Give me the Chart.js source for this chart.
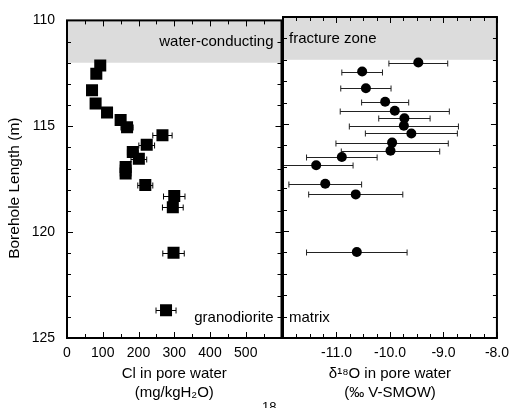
<!DOCTYPE html>
<html>
<head>
<meta charset="utf-8">
<script src="https://cdn.jsdelivr.net/npm/chart.js@4.4.1/dist/chart.umd.min.js"></script>
<style>
  body { margin: 0; background: #fff; }
  #wrap { position: relative; width: 516px; height: 408px; overflow: hidden; }
  #clChart { position: absolute; left: 0; top: 0; }
  #o18Chart { position: absolute; left: 276px; top: 0; }
  #capNum { position: absolute; left: 262px; top: 399px; font: 13px "Liberation Sans", Arial, sans-serif; color: #000; }
</style>
</head>
<body>
<div id="wrap">
  <canvas id="clChart" width="290" height="408"></canvas>
  <canvas id="o18Chart" width="240" height="408"></canvas>
  <span id="capNum">18</span>
</div>
<script>
(function() {
/* ---------- Data ---------- */
const depthCl   = [112.13, 112.52, 113.3, 113.93, 114.35, 114.7, 115.05, 115.42, 115.87, 116.21, 116.53, 116.92, 117.23, 117.77, 118.29, 118.82, 120.97, 123.69];
const clValues  = [93, 82, 70, 80, 112, 150, 168, 267, 223, 184, 201, 164, 164, 219, 300, 296, 298, 277];
const clErrors  = [5, 5, 5, 5, 8, 12, 17, 27, 22, 15, 22, 15, 15, 21, 30, 29, 30, 28];

const depthO18  = [112.13, 112.55, 113.33, 113.96, 114.38, 114.73, 115.08, 115.44, 115.87, 116.25, 116.54, 116.93, 117.79, 118.29, 120.98];
const o18Values = [-9.47, -10.52, -10.45, -10.09, -9.91, -9.73, -9.74, -9.60, -9.96, -9.99, -10.90, -11.38, -11.21, -10.64, -10.62];
const o18Errors = [0.55, 0.38, 0.47, 0.44, 1.02, 0.48, 1.02, 0.86, 1.05, 0.92, 0.66, 0.69, 0.68, 0.88, 0.94];

const depthTicks    = [110, 115, 120, 125];
const clTickLabels  = [0, 100, 200, 300, 400, 500];
const o18TickLabels = [-11, -10, -9, -8];

const zoneTop = 110, zoneBottom = 112;

/* ---------- Common ---------- */
const FONT = '"Liberation Sans", Arial, sans-serif';
Chart.defaults.font.family = FONT;
Chart.defaults.color = '#000';
const tickFont = { size: 14 };
const noGrid = { display: false, drawTicks: false };

/* ---------- Plugins ---------- */
function bandPlugin(labels) {
  return {
    id: 'band',
    beforeDatasetsDraw(chart) {
      const { ctx, chartArea: a, scales: { y } } = chart;
      const top = y.getPixelForValue(zoneTop), bot = y.getPixelForValue(zoneBottom);
      ctx.save();
      ctx.fillStyle = '#dcdcdc';
      ctx.fillRect(a.left, top, a.right - a.left, bot - top);
      ctx.font = '15px ' + FONT;
      ctx.fillStyle = '#000';
      ctx.textBaseline = 'middle';
      labels.forEach(l => {
        ctx.textAlign = l.align;
        const px = l.align === 'right' ? a.right - 8 : a.left + 6;
        ctx.fillText(l.text, px, y.getPixelForValue(l.depth));
      });
      ctx.restore();
    }
  };
}

function errorBars(values, depths, errors, color) {
  return {
    id: 'errorBars',
    beforeDatasetsDraw(chart) {
      const { ctx, chartArea: a, scales: { x, y } } = chart;
      ctx.save();
      ctx.beginPath();
      ctx.rect(a.left, a.top, a.right - a.left, a.bottom - a.top);
      ctx.clip();
      ctx.strokeStyle = color;
      ctx.lineWidth = 1;
      values.forEach((v, i) => {
        const py = Math.round(y.getPixelForValue(depths[i])) + 0.5;
        const x0 = x.getPixelForValue(v - errors[i]);
        const x1 = x.getPixelForValue(v + errors[i]);
        ctx.beginPath();
        ctx.moveTo(x0, py); ctx.lineTo(x1, py);
        ctx.moveTo(x0, py - 3); ctx.lineTo(x0, py + 3);
        ctx.moveTo(x1, py - 3); ctx.lineTo(x1, py + 3);
        ctx.stroke();
      });
      ctx.restore();
    }
  };
}

const framePlugin = {
  id: 'frame',
  afterDraw(chart) {
    const { ctx, chartArea: a, scales: { x, y } } = chart;
    ctx.save();
    ctx.strokeStyle = '#000';
    ctx.lineWidth = 1;
    ctx.beginPath();
    for (let v = y.min; v <= y.max; v += 1) {
      const py = Math.round(y.getPixelForValue(v)) + 0.5;
      const len = v % 5 === 0 ? 6 : 4;
      ctx.moveTo(a.left, py); ctx.lineTo(a.left + len, py);
      ctx.moveTo(a.right, py); ctx.lineTo(a.right - len, py);
    }
    x.ticks.forEach(t => {
      const px = Math.round(x.getPixelForValue(t.value)) + 0.5;
      const len = t.label ? 6 : 4;
      ctx.moveTo(px, a.bottom); ctx.lineTo(px, a.bottom - len);
      ctx.moveTo(px, a.top); ctx.lineTo(px, a.top + len);
    });
    ctx.stroke();
    ctx.lineWidth = 2;
    ctx.strokeRect(a.left, a.top, a.right - a.left, a.bottom - a.top);
    ctx.restore();
  }
};

// y title drawn by hand: it sits a bit below the axis centre in the original
const yTitlePlugin = {
  id: 'yTitle',
  afterDraw(chart) {
    const { ctx, chartArea: a } = chart;
    ctx.save();
    ctx.translate(a.left - 52, (a.top + a.bottom) / 2 + 9);
    ctx.rotate(-Math.PI / 2);
    ctx.font = '15.5px ' + FONT;
    ctx.fillStyle = '#000';
    ctx.textAlign = 'center';
    ctx.textBaseline = 'middle';
    ctx.fillText('Borehole Length (m)', 0, 0);
    ctx.restore();
  }
};

/* ---------- Cl chart ---------- */
new Chart(document.getElementById('clChart'), {
  type: 'scatter',
  data: {
    datasets: [{
      data: depthCl.map((d, i) => ({ x: clValues[i], y: d })),
      pointStyle: 'rect', pointRadius: 8.5, pointHoverRadius: 8.5,
      backgroundColor: '#000', borderWidth: 0
    }]
  },
  options: {
    responsive: false, animation: false, devicePixelRatio: 1, events: [],
    layout: { padding: { left: 0, top: 17, right: 7, bottom: 0 } },
    plugins: { legend: { display: false }, tooltip: { enabled: false } },
    scales: {
      x: {
        type: 'linear', min: 0, max: 600, grid: noGrid, border: { display: false },
        ticks: { stepSize: 50, autoSkip: false, maxRotation: 0, padding: 7, font: tickFont,
                 callback: v => clTickLabels.includes(v) ? String(v) : '' },
        title: { display: true, text: ['Cl in pore water', '(mg/kgH\u2082O)'],
                 font: { size: 15, lineHeight: 19 / 15 }, padding: { top: 0, bottom: 6 } },
        afterFit: s => { s.height = 70; }
      },
      y: {
        type: 'linear', reverse: true, min: 110, max: 125, grid: noGrid, border: { display: false },
        ticks: { stepSize: 1, autoSkip: false, padding: 12, font: tickFont,
                 callback: v => depthTicks.includes(v) ? String(v) : '' },
        afterFit: s => { s.width = 67; }
      }
    }
  },
  plugins: [
    bandPlugin([{ text: 'water-conducting', align: 'right', depth: 111 },
                { text: 'granodiorite', align: 'right', depth: 124.07 }]),
    errorBars(clValues, depthCl, clErrors, '#000'),
    framePlugin,
    yTitlePlugin
  ]
});

/* ---------- d18O chart ---------- */
new Chart(document.getElementById('o18Chart'), {
  type: 'scatter',
  data: {
    datasets: [{
      data: depthO18.map((d, i) => ({ x: o18Values[i], y: d })),
      pointStyle: 'circle', pointRadius: 5, pointHoverRadius: 5,
      backgroundColor: '#000', borderWidth: 0
    }]
  },
  options: {
    responsive: false, animation: false, devicePixelRatio: 1, events: [],
    layout: { padding: { left: 7, top: 17, right: 19, bottom: 0 } },
    plugins: { legend: { display: false }, tooltip: { enabled: false } },
    scales: {
      x: {
        type: 'linear', min: -12, max: -8, grid: noGrid, border: { display: false },
        ticks: { stepSize: 0.25, autoSkip: false, maxRotation: 0, padding: 7, font: tickFont,
                 callback: v => o18TickLabels.includes(v) ? v.toFixed(1) : '' },
        title: { display: true, text: ['\u03b4\u00b9\u2078O in pore water', '(\u2030 V-SMOW)'],
                 font: { size: 15, lineHeight: 19 / 15 }, padding: { top: 0, bottom: 6 } },
        afterFit: s => { s.height = 70; }
      },
      y: { type: 'linear', reverse: true, min: 110, max: 125, display: false }
    }
  },
  plugins: [
    bandPlugin([{ text: 'fracture zone', align: 'left', depth: 111 },
                { text: 'matrix', align: 'left', depth: 124.07 }]),
    errorBars(o18Values, depthO18, o18Errors, '#222'),
    framePlugin
  ]
});
})();
</script>
</body>
</html>
